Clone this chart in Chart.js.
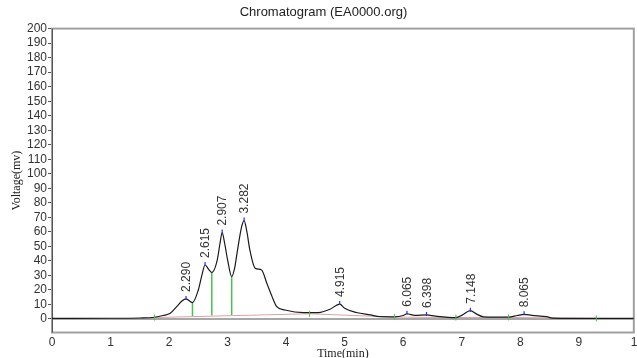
<!DOCTYPE html>
<html>
<head>
<meta charset="utf-8">
<script src="https://cdn.jsdelivr.net/npm/chart.js@4.4.0/dist/chart.umd.min.js"></script>
<style>
html, body { margin: 0; padding: 0; background: #fff; overflow: hidden; }
#wrap { width: 647px; height: 362px; }
</style>
</head>
<body>
<div id="wrap"><canvas id="canvas-chart"></canvas></div>
<script>
// detector trace (time in min, voltage in mV)
const traceTime = [0, 1.0, 1.5, 1.75, 1.9, 2.02, 2.13, 2.22, 2.29, 2.40, 2.50, 2.56, 2.615, 2.68, 2.73, 2.82, 2.87, 2.907, 2.95, 3.0, 3.07, 3.12, 3.16, 3.24, 3.282, 3.33, 3.38, 3.47, 3.58, 3.67, 3.76, 3.84, 3.98, 4.30, 4.55, 4.75, 4.915, 5.0, 5.2, 5.44, 5.6, 5.85, 6.0, 6.065, 6.2, 6.398, 6.55, 6.9, 7.0, 7.148, 7.25, 7.37, 7.8, 7.95, 8.065, 8.2, 8.45, 8.55, 9.3, 9.94];
const traceVolt = [0.4, 0.5, 0.7, 1.2, 2.4, 3.9, 8.5, 12.4, 13.8, 11.3, 20, 30, 37.2, 34, 32, 40, 52, 59.5, 52, 40.7, 29.2, 35, 45, 63.6, 67.8, 60, 47.6, 35, 33.8, 24.6, 15.4, 8.5, 6.2, 4.4, 4.4, 6.7, 10.3, 7.4, 4.5, 2.8, 1.6, 1.5, 2.4, 3.6, 2.5, 2.8, 2.0, 1.0, 2.5, 5.7, 3.5, 1.5, 1.3, 2.4, 3.2, 2.5, 1.6, 0.6, 0.4, 0.4];

// integration baseline
const baseTime = [1.75, 4.4, 5.85, 6.9, 7.8, 9.3];
const baseVolt = [1.0, 3.6, 1.3, 1.0, 1.1, 0.4];

// valley drop lines
const dropTime = [2.40, 2.73, 3.07];
const dropTop = [11.3, 32, 29.2];
const dropBottom = [2.0, 2.4, 2.8];

// labelled peaks
const peakTime = [2.290, 2.615, 2.907, 3.282, 4.915, 6.065, 6.398, 7.148, 8.065];
const peakVolt = [13.8, 37.2, 59.5, 67.8, 10.3, 3.6, 2.8, 5.7, 3.2];
const peakLabels = ['2.290', '2.615', '2.907', '3.282', '4.915', '6.065', '6.398', '7.148', '8.065'];

const xTicks = [0, 1, 2, 3, 4, 5, 6, 7, 8, 9, 10];
const yTicks = [0, 10, 20, 30, 40, 50, 60, 70, 80, 90, 100, 110, 120, 130, 140, 150, 160, 170, 180, 190, 200];

const sans = '"Liberation Sans", Arial, sans-serif';
const serif = '"Liberation Serif", "Times New Roman", serif';

const datasets = [{
    data: traceTime.map((t, i) => ({ x: t, y: traceVolt[i] })),
    borderColor: '#1a1a1a',
    borderWidth: 1.2,
    pointRadius: 0,
    cubicInterpolationMode: 'monotone'
}, {
    data: baseTime.map((t, i) => ({ x: t, y: baseVolt[i] })),
    borderColor: '#d9a3a3',
    borderWidth: 1,
    pointRadius: 0
}];
dropTime.forEach((t, i) => {
    datasets.push({
        data: [{ x: t, y: dropBottom[i] }, { x: t, y: dropTop[i] }],
        borderColor: '#4cc04c',
        borderWidth: 1.5,
        pointRadius: 0
    });
});

const chromPlugin = {
    id: 'chrom',
    beforeDatasetsDraw(chart) {
        const { ctx, chartArea: a, scales: { x, y } } = chart;
        ctx.save();
        ctx.strokeStyle = '#a0a0a0';
        ctx.lineWidth = 2;
        ctx.strokeRect(a.left, a.top, a.right - a.left, a.bottom - a.top);
        // zero line
        const y0 = y.getPixelForValue(0);
        ctx.strokeStyle = '#8a8a8a';
        ctx.lineWidth = 1.5;
        ctx.beginPath();
        ctx.moveTo(a.left, y0);
        ctx.lineTo(a.right, y0);
        ctx.stroke();
        // left axis
        ctx.strokeStyle = '#555';
        ctx.lineWidth = 1;
        ctx.beginPath();
        ctx.moveTo(a.left + 0.5, a.top);
        ctx.lineTo(a.left + 0.5, a.bottom);
        ctx.stroke();
        ctx.restore();
    },
    afterDatasetsDraw(chart) {
        const { ctx, scales: { x, y } } = chart;
        ctx.save();
        // baseline marks
        ctx.strokeStyle = '#4cc04c';
        ctx.lineWidth = 1;
        baseTime.forEach((t, i) => {
            const px = x.getPixelForValue(t), py = y.getPixelForValue(baseVolt[i]);
            ctx.beginPath();
            ctx.moveTo(px, py - 3);
            ctx.lineTo(px, py + 3);
            ctx.stroke();
        });
        peakTime.forEach((t, i) => {
            const px = x.getPixelForValue(t), py = y.getPixelForValue(peakVolt[i]);
            ctx.strokeStyle = '#2b2bff';
            ctx.lineWidth = 1.2;
            ctx.beginPath();
            ctx.moveTo(px, py + 1);
            ctx.lineTo(px, py - 3);
            ctx.stroke();
            ctx.save();
            ctx.translate(px + 1, py - 7);
            ctx.rotate(-Math.PI / 2);
            ctx.fillStyle = '#333';
            ctx.font = '12px ' + sans;
            ctx.textAlign = 'left';
            ctx.textBaseline = 'middle';
            ctx.fillText(peakLabels[i], 0, 0);
            ctx.restore();
        });
        ctx.restore();
    }
};

const ctx = document.getElementById('canvas-chart');

new Chart(ctx, {
    type: 'line',
    data: { datasets: datasets },
    plugins: [chromPlugin],
    options: {
        responsive: true,
        maintainAspectRatio: false,
        animation: false,
        events: [],
        scales: {
            x: {
                type: 'linear',
                min: 0,
                max: 9.94,
                afterBuildTicks: s => { s.ticks = xTicks.map(v => ({ value: v })); },
                afterFit: s => { s.height = 29.5; },
                grid: { display: false, drawTicks: false },
                border: { display: false },
                ticks: {
                    color: '#333',
                    autoSkip: false,
                    maxRotation: 0,
                    padding: 3,
                    font: { family: sans, size: 12 }
                },
                title: {
                    display: true,
                    text: 'Time(min)',
                    color: '#222',
                    padding: { top: 0, bottom: 1 },
                    font: { family: serif, size: 12 }
                }
            },
            y: {
                type: 'linear',
                min: -9.3,
                max: 200,
                afterBuildTicks: s => { s.ticks = yTicks.map(v => ({ value: v })); },
                afterFit: s => { s.width = 52; },
                grid: { drawOnChartArea: false, drawTicks: true, tickLength: 4, color: '#555' },
                border: { display: false },
                ticks: {
                    color: '#333',
                    autoSkip: false,
                    padding: 1,
                    font: { family: sans, size: 12 }
                },
                title: {
                    display: true,
                    text: 'Voltage(mv)',
                    color: '#222',
                    padding: { top: 10, bottom: 0 },
                    font: { family: serif, size: 12 }
                }
            }
        },
        plugins: {
            legend: { display: false },
            tooltip: { enabled: false },
            title: {
                display: true,
                text: 'Chromatogram (EA0000.org)',
                color: '#222',
                padding: { top: 5, bottom: 8 },
                font: { family: sans, size: 13, weight: 'normal' }
            }
        }
    }
});
</script>
</body>
</html>
